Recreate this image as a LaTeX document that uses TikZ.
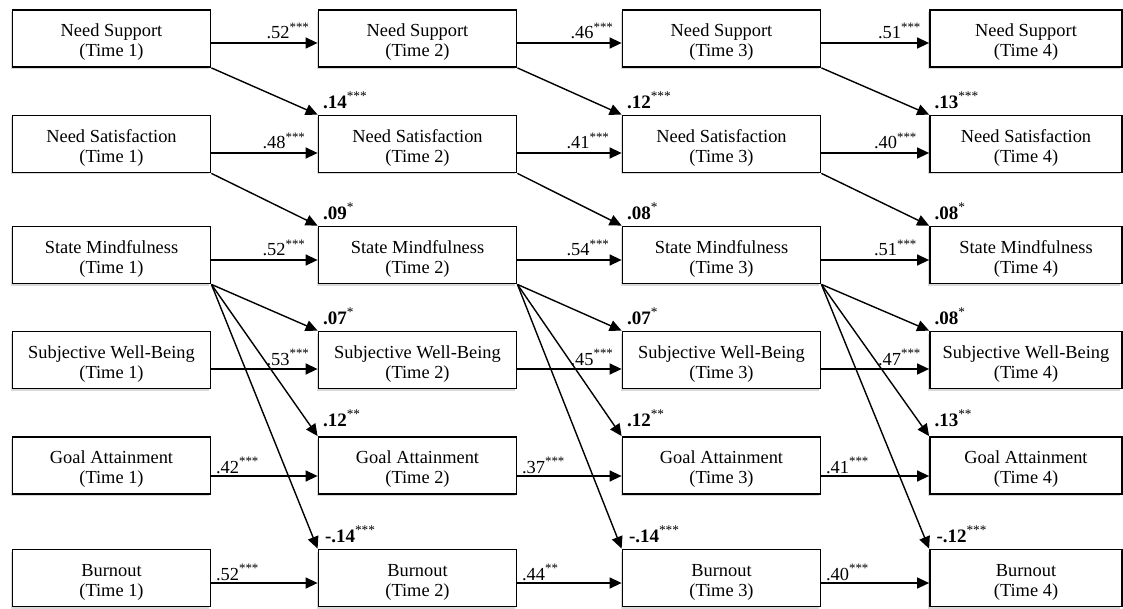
\documentclass[tikz,border=0pt]{standalone}
\usepackage{fontspec}
\setmainfont{Liberation Serif}
\usetikzlibrary{arrows.meta,shadows}
\begin{document}
\begin{tikzpicture}[x=0.5pt,y=-0.5pt,
  box/.style={draw,line width=0.9pt,fill=white,minimum width=99pt,minimum height=28.5pt,
    inner sep=0pt,align=center,font=\fontsize{9.2}{10}\selectfont,
    drop shadow={shadow xshift=-1pt,shadow yshift=-1pt,opacity=0.3,fill=gray}},
  boxr/.style={box,minimum width=96pt},
  arr/.style={line width=0.7pt,-{Triangle[length=6pt,width=5.5pt]}},
  coef/.style={anchor=base west,inner sep=0pt,font=\fontsize{9.5}{10}\selectfont},
  lblend/.style={pos=1,anchor=base east,inner sep=0pt,font=\fontsize{9.2}{10}\selectfont},
  lblstart/.style={pos=0,anchor=base west,inner sep=0pt,xshift=2pt,yshift=1.2pt,font=\fontsize{9.2}{10}\selectfont}
]
\useasboundingbox (0,0) rectangle (1123,609);
\newcommand\stars[1]{\textsuperscript{#1}}
\newcommand\tstrut{\rule{0pt}{10pt}}

% ---- boxes ----
\foreach \c/\x in {1/111.5,2/417.5,3/721.5}{
  \node[box] (ns\c)  at (\x,38.5) {\tstrut Need Support\\(Time \c)};
  \node[box] (sat\c) at (\x,144)  {\tstrut Need Satisfaction\\(Time \c)};
  \node[box] (sm\c)  at (\x,255)  {\tstrut State Mindfulness\\(Time \c)};
  \node[box] (swb\c) at (\x,360)  {\tstrut Subjective Well-Being\\(Time \c)};
  \node[box] (ga\c)  at (\x,465.5){\tstrut Goal Attainment\\(Time \c)};
  \node[box] (bo\c)  at (\x,578)  {\tstrut Burnout\\(Time \c)};
}
\node[boxr] (ns4)  at (1026,38.5) {\tstrut Need Support\\(Time 4)};
\node[boxr] (sat4) at (1026,144)  {\tstrut Need Satisfaction\\(Time 4)};
\node[boxr] (sm4)  at (1026,255)  {\tstrut State Mindfulness\\(Time 4)};
\node[boxr] (swb4) at (1026,360)  {\tstrut Subjective Well-Being\\(Time 4)};
\node[boxr] (ga4)  at (1026,465.5){\tstrut Goal Attainment\\(Time 4)};
\node[boxr] (bo4)  at (1026,578)  {\tstrut Burnout\\(Time 4)};

% ---- horizontal paths ----
\foreach \a/\b/\la/\sa in {1/2/.52/***,2/3/.46/***,3/4/.51/***}
  \draw[arr] ([yshift=-2.25pt]ns\a.east) -- ([yshift=-2.25pt]ns\b.west)
    node[lblend,xshift=-3.5pt,yshift=2pt] {\la\stars{\sa}};
\foreach \a/\b/\la/\sa in {1/2/.48/***,2/3/.41/***,3/4/.40/***}
  \draw[arr] ([yshift=-4.5pt]sat\a.east) -- ([yshift=-4.5pt]sat\b.west)
    node[lblend,xshift=-5.5pt,yshift=2pt] {\la\stars{\sa}};
\foreach \a/\b/\la/\sa in {1/2/.52/***,2/3/.54/***,3/4/.51/***}
  \draw[arr] ([yshift=-2.5pt]sm\a.east) -- ([yshift=-2.5pt]sm\b.west)
    node[lblend,xshift=-5.5pt,yshift=2pt] {\la\stars{\sa}};
\foreach \a/\b/\la/\sa in {1/2/.53/***,2/3/.45/***,3/4/.47/***}
  \draw[arr] ([yshift=-4.5pt]swb\a.east) -- ([yshift=-4.5pt]swb\b.west)
    node[lblend,xshift=-3.5pt,yshift=2pt] {\la\stars{\sa}};
\foreach \a/\b/\la/\sa in {1/2/.42/***,2/3/.37/***,3/4/.41/***}
  \draw[arr] ([yshift=-5.25pt]ga\a.east) -- ([yshift=-5.25pt]ga\b.west)
    node[lblstart] {\la\stars{\sa}};
\foreach \a/\b/\la/\sa in {1/2/.52/***,2/3/.44/**,3/4/.40/***}
  \draw[arr] ([yshift=-2.5pt]bo\a.east) -- ([yshift=-2.5pt]bo\b.west)
    node[lblstart] {\la\stars{\sa}};

% ---- cross-lagged paths ----
\foreach \a/\b in {1/2,2/3,3/4}{
  \draw[arr] (ns\a.south east) -- (sat\b.north west);
  \draw[arr] (sat\a.south east) -- (sm\b.north west);
  \draw[arr] (sm\a.south east) -- (swb\b.north west);
  \draw[arr] (sm\a.south east) -- (ga\b.north west);
  \draw[arr] (sm\a.south east) -- (bo\b.north west);
}

% ---- cross-lagged coefficients ----
\foreach \n/\v/\s in {sat2/.14/***,sat3/.12/***,sat4/.13/***,
                      sm2/.09/*,sm3/.08/*,sm4/.08/*,
                      swb2/.07/*,swb3/.07/*,swb4/.08/*}
  \node[coef] (c\n) at ([xshift=2.5pt,yshift=3pt]\n.north west) {\textbf{\v}\stars{\s}};
\foreach \n/\v/\s in {ga2/.12/**,ga3/.12/**,ga4/.13/**}
  \node[coef] (c\n) at ([xshift=2.5pt,yshift=5pt]\n.north west) {\textbf{\v}\stars{\s}};
\foreach \n/\v/\s in {bo2/-.14/***,bo3/-.14/***,bo4/-.12/***}
  \node[coef] (c\n) at ([xshift=3.5pt,yshift=3pt]\n.north west) {\textbf{\v}\stars{\s}};
\end{tikzpicture}
\end{document}
